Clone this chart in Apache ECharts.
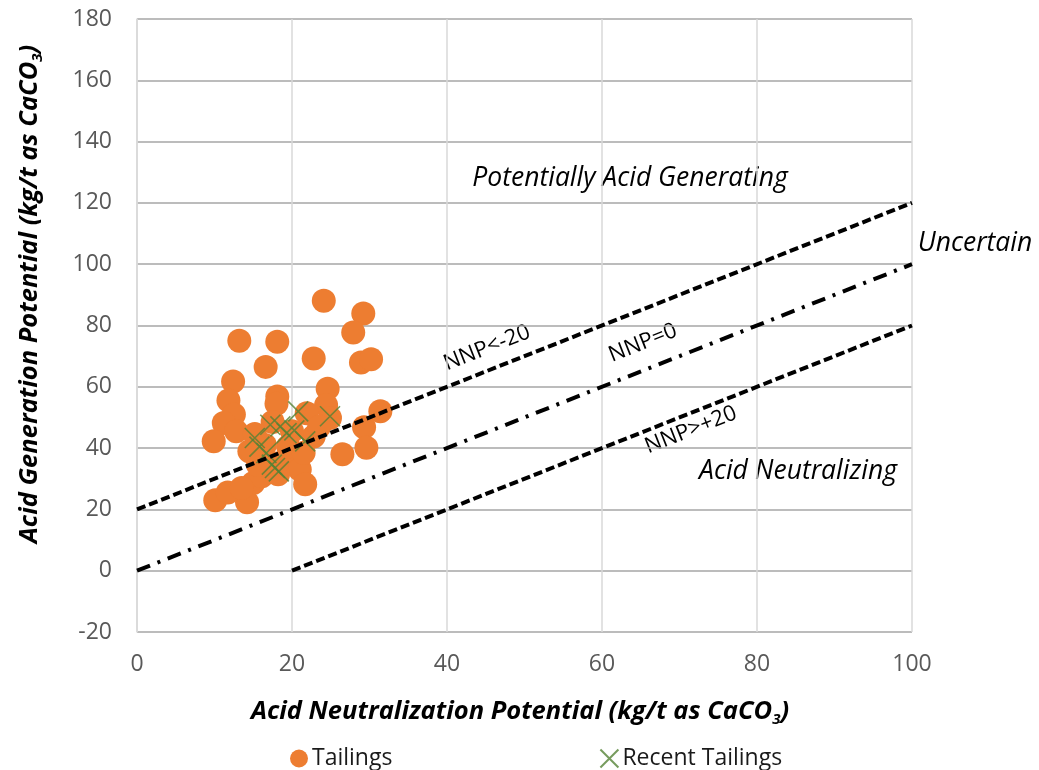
<!DOCTYPE html>
<html><head><meta charset="utf-8">
<script src="https://cdn.jsdelivr.net/npm/echarts@6/dist/echarts.min.js"></script>
<style>html,body{margin:0;padding:0;background:#fff}#c{width:1039px;height:770px}</style>
</head><body><div id="c"></div>
<script>
const tailings = [
 [24.1,88.1],[29.2,83.9],[27.9,77.7],[13.2,75.0],[18.1,74.7],[22.8,69.2],[16.6,66.5],[28.9,67.9],[30.2,69.0],
 [12.4,61.7],[24.6,59.4],[11.8,55.5],[18.1,56.8],[18.0,54.5],[24.4,54.0],[31.4,52.0],[12.5,51.0],[11.2,48.2],
 [12.8,45.5],[9.9,42.2],[29.3,46.8],[29.6,40.1],[26.5,38.0],[24.9,49.8],[21.9,51.4],[22.8,43.8],[15.2,44.6],
 [19.7,36.2],[21.0,33.0],[21.7,28.2],[10.1,23.0],[14.2,22.3],[11.7,25.5],[15.0,28.6],[16.1,30.8],[15.6,34.6],
 [18.2,31.5],[18.0,35.0],[17.5,48.5],[20.0,45.5],[23.5,47.0],[14.5,39.0],[19.5,40.5],[16.5,41.0],[21.5,38.5],[13.5,27.0]
];
const recentTailings = [
 [20.8,52.0],[24.9,50.4],[17.2,47.6],[19.3,44.9],[15.2,43.3],[21.7,42.2],[16.7,38.4],[17.8,33.5],[18.3,32.4],
 [17.4,34.6],[18.5,47.1],[20.3,45.8],[15.8,40.5]
];
const nnpMinus20 = [[0,20],[100,120]];
const nnpZero = [[0,0],[100,100]];
const nnpPlus20 = [[20,0],[100,80]];
const seriesNames = ['Tailings','Recent Tailings'];

const FONT = 'Open Sans';
const chart = echarts.init(document.getElementById('c'), null, {renderer:'canvas'});
const lineBase = {type:'line', symbol:'none', silent:true, z:5, animation:false};
const rt = {fontSize:25.5, fontWeight:'bold', fontStyle:'italic', fontFamily:FONT, fill:'#000'};
const rs = {fontSize:15, fontWeight:'bold', fontStyle:'italic', fontFamily:FONT, fill:'#000', padding:[16,0,0,0]};
const ann = {align:'center', verticalAlign:'middle', fontSize:26.5, fontStyle:'italic', fontFamily:FONT, fill:'#000'};
const nnp = {align:'center', verticalAlign:'middle', fontSize:22, fontFamily:FONT, fill:'#000'};
chart.setOption({
  animation:false,
  textStyle:{fontFamily:FONT},
  grid:{left:137, right:127, top:19, bottom:138, containLabel:false},
  xAxis:{type:'value', min:0, max:100, interval:20,
    axisLine:{show:false}, axisTick:{show:false},
    axisLabel:{fontSize:23, color:'#595959', margin:21, fontFamily:FONT},
    splitLine:{show:true, lineStyle:{color:'#d9d9d9', width:1.5}}},
  yAxis:{type:'value', min:-20, max:180, interval:20,
    axisLine:{show:true, lineStyle:{color:'#d9d9d9', width:1.5}}, axisTick:{show:false},
    axisLabel:{fontSize:23, color:'#595959', margin:25, fontFamily:FONT},
    splitLine:{show:true, lineStyle:{color:'#a6a6a6', width:1.5}}},
  legend:{data:seriesNames, left:285, top:742, itemGap:207, itemWidth:18, itemHeight:18,
    textStyle:{fontSize:23, color:'#1a1a1a', fontFamily:FONT, padding:[0,0,0,-1]}},
  series:[
    {name:'Tailings', type:'scatter', data:tailings, symbol:'circle', symbolSize:24, z:2,
      itemStyle:{color:'#ED7D31', opacity:1}},
    {name:'Recent Tailings', type:'scatter', data:recentTailings, z:3,
      symbol:'path://M0,0L10,10M10,0L0,10', symbolSize:20,
      itemStyle:{color:'rgba(0,0,0,0)', borderColor:'#548235', borderWidth:1.6}},
    Object.assign({}, lineBase, {name:'NNP<-20', data:nnpMinus20, lineStyle:{color:'#000', width:4, type:[9,4]}}),
    Object.assign({}, lineBase, {name:'NNP=0', data:nnpZero, lineStyle:{color:'#000', width:4, type:[14,8,3,8]}}),
    Object.assign({}, lineBase, {name:'NNP>+20', data:nnpPlus20, lineStyle:{color:'#000', width:4, type:[9,4]}})
  ],
  graphic:[
    {type:'text', x:520, y:712, style:{text:'{t|Acid Neutralization Potential (kg/t as CaCO}{s|3}{t|)}',
      align:'center', verticalAlign:'middle', rich:{t:rt, s:rs}}},
    {type:'text', x:30, y:294, rotation:Math.PI/2, style:{text:'{t|Acid Generation Potential (kg/t as CaCO}{s|3}{t|)}',
      align:'center', verticalAlign:'middle', rich:{t:rt, s:rs}}},
    {type:'text', x:630, y:178, style:Object.assign({text:'Potentially Acid Generating'}, ann)},
    {type:'text', x:975, y:243, style:Object.assign({text:'Uncertain'}, ann)},
    {type:'text', x:798, y:471, style:Object.assign({text:'Acid Neutralizing'}, ann)},
    {type:'text', x:487, y:348, rotation:0.377, style:Object.assign({text:'NNP<-20'}, nnp)},
    {type:'text', x:643, y:343, rotation:0.377, style:Object.assign({text:'NNP=0'}, nnp)},
    {type:'text', x:691, y:430, rotation:0.377, style:Object.assign({text:'NNP>+20'}, nnp)}
  ]
});
</script></body></html>
